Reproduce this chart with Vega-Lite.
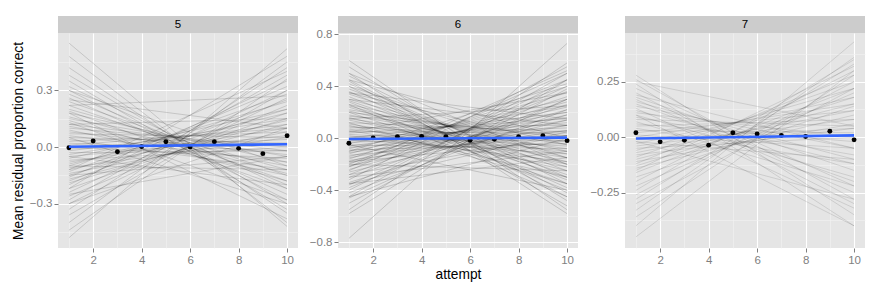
{
  "$schema": "https://vega.github.io/schema/vega-lite/v6.json",
  "padding": {"left": 11, "top": 16, "right": 5, "bottom": 5},
  "background": "white",
  "config": {
    "font": "Liberation Sans",
    "view": {"stroke": null},
    "axis": {
      "domain": false,
      "labelColor": "#7f7f7f",
      "labelFontSize": 11.5,
      "tickColor": "#7f7f7f",
      "tickSize": 4,
      "labelPadding": 2,
      "titleFontSize": 13.75,
      "titleFontWeight": "normal",
      "titleColor": "#000000",
      "gridColor": "#ffffff",
      "gridOpacity": 1
    }
  },
  "datasets": {
    "l5": [
      {"g":1,"x":1,"y":0.55},{"g":1,"x":10,"y":-0.42},{"g":2,"x":1,"y":0.48},{"g":2,"x":10,"y":-0.40},
      {"g":3,"x":1,"y":0.42},{"g":3,"x":10,"y":-0.35},{"g":4,"x":1,"y":0.38},{"g":4,"x":10,"y":-0.30},
      {"g":5,"x":1,"y":0.35},{"g":5,"x":10,"y":-0.33},{"g":6,"x":1,"y":0.32},{"g":6,"x":10,"y":-0.22},
      {"g":7,"x":1,"y":0.30},{"g":7,"x":10,"y":-0.28},{"g":8,"x":1,"y":0.28},{"g":8,"x":10,"y":-0.20},
      {"g":9,"x":1,"y":0.26},{"g":9,"x":10,"y":-0.25},{"g":10,"x":1,"y":0.24},{"g":10,"x":10,"y":-0.15},
      {"g":11,"x":1,"y":0.22},{"g":11,"x":10,"y":-0.18},{"g":12,"x":1,"y":0.20},{"g":12,"x":10,"y":-0.12},
      {"g":13,"x":1,"y":0.19},{"g":13,"x":10,"y":-0.22},{"g":14,"x":1,"y":0.18},{"g":14,"x":10,"y":-0.08},
      {"g":15,"x":1,"y":0.16},{"g":15,"x":10,"y":-0.14},{"g":16,"x":1,"y":0.15},{"g":16,"x":10,"y":-0.05},
      {"g":17,"x":1,"y":0.14},{"g":17,"x":10,"y":-0.18},{"g":18,"x":1,"y":0.12},{"g":18,"x":10,"y":-0.02},
      {"g":19,"x":1,"y":0.11},{"g":19,"x":10,"y":-0.10},{"g":20,"x":1,"y":0.10},{"g":20,"x":10,"y":0.00},
      {"g":21,"x":1,"y":0.09},{"g":21,"x":10,"y":-0.15},{"g":22,"x":1,"y":0.08},{"g":22,"x":10,"y":-0.04},
      {"g":23,"x":1,"y":0.07},{"g":23,"x":10,"y":0.05},{"g":24,"x":1,"y":0.06},{"g":24,"x":10,"y":-0.08},
      {"g":25,"x":1,"y":0.05},{"g":25,"x":10,"y":0.02},{"g":26,"x":1,"y":0.04},{"g":26,"x":10,"y":-0.12},
      {"g":27,"x":1,"y":0.03},{"g":27,"x":10,"y":0.08},{"g":28,"x":1,"y":0.02},{"g":28,"x":10,"y":-0.02},
      {"g":29,"x":1,"y":0.01},{"g":29,"x":10,"y":0.10},{"g":30,"x":1,"y":0.00},{"g":30,"x":10,"y":-0.06},
      {"g":31,"x":1,"y":-0.01},{"g":31,"x":10,"y":0.04},{"g":32,"x":1,"y":-0.02},{"g":32,"x":10,"y":0.12},
      {"g":33,"x":1,"y":-0.03},{"g":33,"x":10,"y":-0.02},{"g":34,"x":1,"y":-0.04},{"g":34,"x":10,"y":0.15},
      {"g":35,"x":1,"y":-0.05},{"g":35,"x":10,"y":0.06},{"g":36,"x":1,"y":-0.06},{"g":36,"x":10,"y":0.20},
      {"g":37,"x":1,"y":-0.07},{"g":37,"x":10,"y":0.00},{"g":38,"x":1,"y":-0.08},{"g":38,"x":10,"y":0.10},
      {"g":39,"x":1,"y":-0.09},{"g":39,"x":10,"y":0.18},{"g":40,"x":1,"y":-0.10},{"g":40,"x":10,"y":0.24},
      {"g":41,"x":1,"y":-0.11},{"g":41,"x":10,"y":0.05},{"g":42,"x":1,"y":-0.12},{"g":42,"x":10,"y":0.14},
      {"g":43,"x":1,"y":-0.13},{"g":43,"x":10,"y":0.28},{"g":44,"x":1,"y":-0.14},{"g":44,"x":10,"y":0.08},
      {"g":45,"x":1,"y":-0.15},{"g":45,"x":10,"y":0.20},{"g":46,"x":1,"y":-0.16},{"g":46,"x":10,"y":0.32},
      {"g":47,"x":1,"y":-0.17},{"g":47,"x":10,"y":0.12},{"g":48,"x":1,"y":-0.18},{"g":48,"x":10,"y":0.25},
      {"g":49,"x":1,"y":-0.19},{"g":49,"x":10,"y":0.15},{"g":50,"x":1,"y":-0.20},{"g":50,"x":10,"y":0.35},
      {"g":51,"x":1,"y":-0.22},{"g":51,"x":10,"y":0.18},{"g":52,"x":1,"y":-0.24},{"g":52,"x":10,"y":0.30},
      {"g":53,"x":1,"y":-0.26},{"g":53,"x":10,"y":0.22},{"g":54,"x":1,"y":-0.28},{"g":54,"x":10,"y":0.38},
      {"g":55,"x":1,"y":-0.30},{"g":55,"x":10,"y":0.26},{"g":56,"x":1,"y":-0.33},{"g":56,"x":10,"y":0.42},
      {"g":57,"x":1,"y":-0.36},{"g":57,"x":10,"y":0.30},{"g":58,"x":1,"y":-0.40},{"g":58,"x":10,"y":0.45},
      {"g":59,"x":1,"y":-0.44},{"g":59,"x":10,"y":0.36},{"g":60,"x":1,"y":-0.48},{"g":60,"x":10,"y":0.52},
      {"g":61,"x":1,"y":0.22},{"g":61,"x":10,"y":0.27},{"g":62,"x":1,"y":0.00},{"g":62,"x":10,"y":0.02},
      {"g":63,"x":1,"y":-0.10},{"g":63,"x":10,"y":-0.12},{"g":64,"x":1,"y":0.12},{"g":64,"x":10,"y":0.15},
      {"g":65,"x":1,"y":-0.05},{"g":65,"x":10,"y":-0.20},{"g":66,"x":1,"y":0.05},{"g":66,"x":10,"y":-0.30},
      {"g":67,"x":1,"y":-0.15},{"g":67,"x":10,"y":-0.05},{"g":68,"x":1,"y":0.25},{"g":68,"x":10,"y":0.10},
      {"g":69,"x":1,"y":-0.25},{"g":69,"x":10,"y":-0.05},{"g":70,"x":1,"y":0.18},{"g":70,"x":10,"y":-0.38},
      {"g":71,"x":1,"y":-0.22},{"g":71,"x":10,"y":0.48},{"g":72,"x":1,"y":0.30},{"g":72,"x":10,"y":-0.10},
      {"g":73,"x":1,"y":-0.30},{"g":73,"x":10,"y":0.10},{"g":74,"x":1,"y":0.13},{"g":74,"x":10,"y":-0.28},
      {"g":75,"x":1,"y":-0.12},{"g":75,"x":10,"y":0.40}
    ],
    "p5": [
      {"x":1,"y":-0.004},{"x":2,"y":0.032},{"x":3,"y":-0.025},{"x":4,"y":0.002},{"x":5,"y":0.028},
      {"x":6,"y":0.0},{"x":7,"y":0.028},{"x":8,"y":-0.007},{"x":9,"y":-0.035},{"x":10,"y":0.06}
    ],
    "l6": [
      {"g":1,"x":1,"y":0.60},{"g":1,"x":10,"y":-0.55},{"g":2,"x":1,"y":0.55},{"g":2,"x":10,"y":-0.48},
      {"g":3,"x":1,"y":0.50},{"g":3,"x":10,"y":-0.58},{"g":4,"x":1,"y":0.48},{"g":4,"x":10,"y":-0.35},
      {"g":5,"x":1,"y":0.45},{"g":5,"x":10,"y":-0.42},{"g":6,"x":1,"y":0.42},{"g":6,"x":10,"y":-0.30},
      {"g":7,"x":1,"y":0.40},{"g":7,"x":10,"y":-0.45},{"g":8,"x":1,"y":0.38},{"g":8,"x":10,"y":-0.25},
      {"g":9,"x":1,"y":0.36},{"g":9,"x":10,"y":-0.38},{"g":10,"x":1,"y":0.34},{"g":10,"x":10,"y":-0.20},
      {"g":11,"x":1,"y":0.32},{"g":11,"x":10,"y":-0.32},{"g":12,"x":1,"y":0.30},{"g":12,"x":10,"y":-0.15},
      {"g":13,"x":1,"y":0.29},{"g":13,"x":10,"y":-0.28},{"g":14,"x":1,"y":0.28},{"g":14,"x":10,"y":-0.40},
      {"g":15,"x":1,"y":0.26},{"g":15,"x":10,"y":-0.10},{"g":16,"x":1,"y":0.25},{"g":16,"x":10,"y":-0.22},
      {"g":17,"x":1,"y":0.24},{"g":17,"x":10,"y":-0.30},{"g":18,"x":1,"y":0.22},{"g":18,"x":10,"y":-0.05},
      {"g":19,"x":1,"y":0.21},{"g":19,"x":10,"y":-0.18},{"g":20,"x":1,"y":0.20},{"g":20,"x":10,"y":-0.35},
      {"g":21,"x":1,"y":0.18},{"g":21,"x":10,"y":-0.12},{"g":22,"x":1,"y":0.17},{"g":22,"x":10,"y":0.02},
      {"g":23,"x":1,"y":0.16},{"g":23,"x":10,"y":-0.25},{"g":24,"x":1,"y":0.15},{"g":24,"x":10,"y":-0.08},
      {"g":25,"x":1,"y":0.14},{"g":25,"x":10,"y":-0.20},{"g":26,"x":1,"y":0.12},{"g":26,"x":10,"y":0.05},
      {"g":27,"x":1,"y":0.11},{"g":27,"x":10,"y":-0.15},{"g":28,"x":1,"y":0.10},{"g":28,"x":10,"y":-0.30},
      {"g":29,"x":1,"y":0.09},{"g":29,"x":10,"y":-0.02},{"g":30,"x":1,"y":0.08},{"g":30,"x":10,"y":0.10},
      {"g":31,"x":1,"y":0.07},{"g":31,"x":10,"y":-0.10},{"g":32,"x":1,"y":0.06},{"g":32,"x":10,"y":-0.22},
      {"g":33,"x":1,"y":0.05},{"g":33,"x":10,"y":0.04},{"g":34,"x":1,"y":0.04},{"g":34,"x":10,"y":0.15},
      {"g":35,"x":1,"y":0.03},{"g":35,"x":10,"y":-0.06},{"g":36,"x":1,"y":0.02},{"g":36,"x":10,"y":-0.18},
      {"g":37,"x":1,"y":0.01},{"g":37,"x":10,"y":0.08},{"g":38,"x":1,"y":0.00},{"g":38,"x":10,"y":-0.02},
      {"g":39,"x":1,"y":0.00},{"g":39,"x":10,"y":0.20},{"g":40,"x":1,"y":-0.01},{"g":40,"x":10,"y":-0.12},
      {"g":41,"x":1,"y":-0.02},{"g":41,"x":10,"y":0.12},{"g":42,"x":1,"y":-0.03},{"g":42,"x":10,"y":0.02},
      {"g":43,"x":1,"y":-0.04},{"g":43,"x":10,"y":0.25},{"g":44,"x":1,"y":-0.05},{"g":44,"x":10,"y":-0.08},
      {"g":45,"x":1,"y":-0.06},{"g":45,"x":10,"y":0.16},{"g":46,"x":1,"y":-0.07},{"g":46,"x":10,"y":0.06},
      {"g":47,"x":1,"y":-0.08},{"g":47,"x":10,"y":0.30},{"g":48,"x":1,"y":-0.09},{"g":48,"x":10,"y":-0.04},
      {"g":49,"x":1,"y":-0.10},{"g":49,"x":10,"y":0.20},{"g":50,"x":1,"y":-0.11},{"g":50,"x":10,"y":0.10},
      {"g":51,"x":1,"y":-0.12},{"g":51,"x":10,"y":0.35},{"g":52,"x":1,"y":-0.13},{"g":52,"x":10,"y":0.02},
      {"g":53,"x":1,"y":-0.14},{"g":53,"x":10,"y":0.24},{"g":54,"x":1,"y":-0.15},{"g":54,"x":10,"y":0.14},
      {"g":55,"x":1,"y":-0.16},{"g":55,"x":10,"y":0.40},{"g":56,"x":1,"y":-0.17},{"g":56,"x":10,"y":0.06},
      {"g":57,"x":1,"y":-0.18},{"g":57,"x":10,"y":0.28},{"g":58,"x":1,"y":-0.19},{"g":58,"x":10,"y":0.18},
      {"g":59,"x":1,"y":-0.20},{"g":59,"x":10,"y":0.45},{"g":60,"x":1,"y":-0.21},{"g":60,"x":10,"y":0.10},
      {"g":61,"x":1,"y":-0.22},{"g":61,"x":10,"y":0.32},{"g":62,"x":1,"y":-0.24},{"g":62,"x":10,"y":0.22},
      {"g":63,"x":1,"y":-0.25},{"g":63,"x":10,"y":0.50},{"g":64,"x":1,"y":-0.26},{"g":64,"x":10,"y":0.14},
      {"g":65,"x":1,"y":-0.28},{"g":65,"x":10,"y":0.36},{"g":66,"x":1,"y":-0.30},{"g":66,"x":10,"y":0.26},
      {"g":67,"x":1,"y":-0.32},{"g":67,"x":10,"y":0.55},{"g":68,"x":1,"y":-0.34},{"g":68,"x":10,"y":0.18},
      {"g":69,"x":1,"y":-0.36},{"g":69,"x":10,"y":0.40},{"g":70,"x":1,"y":-0.38},{"g":70,"x":10,"y":0.30},
      {"g":71,"x":1,"y":-0.40},{"g":71,"x":10,"y":0.45},{"g":72,"x":1,"y":-0.42},{"g":72,"x":10,"y":0.22},
      {"g":73,"x":1,"y":-0.45},{"g":73,"x":10,"y":0.50},{"g":74,"x":1,"y":-0.50},{"g":74,"x":10,"y":0.38},
      {"g":75,"x":1,"y":-0.55},{"g":75,"x":10,"y":0.58},{"g":76,"x":1,"y":-0.58},{"g":76,"x":10,"y":0.45},
      {"g":77,"x":1,"y":-0.77},{"g":77,"x":10,"y":0.73},{"g":78,"x":1,"y":0.40},{"g":78,"x":10,"y":-0.15},
      {"g":79,"x":1,"y":0.50},{"g":79,"x":10,"y":-0.20},{"g":80,"x":1,"y":-0.35},{"g":80,"x":10,"y":0.05},
      {"g":81,"x":1,"y":-0.28},{"g":81,"x":10,"y":0.02},{"g":82,"x":1,"y":0.35},{"g":82,"x":10,"y":-0.05},
      {"g":83,"x":1,"y":0.26},{"g":83,"x":10,"y":-0.45},{"g":84,"x":1,"y":-0.22},{"g":84,"x":10,"y":0.52},
      {"g":85,"x":1,"y":0.12},{"g":85,"x":10,"y":-0.35},{"g":86,"x":1,"y":-0.10},{"g":86,"x":10,"y":0.42},
      {"g":87,"x":1,"y":0.20},{"g":87,"x":10,"y":0.00},{"g":88,"x":1,"y":-0.18},{"g":88,"x":10,"y":-0.02},
      {"g":89,"x":1,"y":0.44},{"g":89,"x":10,"y":-0.52},{"g":90,"x":1,"y":-0.46},{"g":90,"x":10,"y":0.30},
      {"g":91,"x":1,"y":0.30},{"g":91,"x":10,"y":0.10},{"g":92,"x":1,"y":0.15},{"g":92,"x":10,"y":0.25},
      {"g":93,"x":1,"y":-0.30},{"g":93,"x":10,"y":-0.10},{"g":94,"x":1,"y":-0.20},{"g":94,"x":10,"y":-0.25},
      {"g":95,"x":1,"y":0.45},{"g":95,"x":10,"y":0.00},{"g":96,"x":1,"y":-0.45},{"g":96,"x":10,"y":0.00},
      {"g":97,"x":1,"y":0.05},{"g":97,"x":10,"y":0.35},{"g":98,"x":1,"y":-0.05},{"g":98,"x":10,"y":-0.40},
      {"g":99,"x":1,"y":0.35},{"g":99,"x":10,"y":0.15},{"g":100,"x":1,"y":-0.35},{"g":100,"x":10,"y":-0.15}
    ],
    "p6": [
      {"x":1,"y":-0.038},{"x":2,"y":0.003},{"x":3,"y":0.013},{"x":4,"y":0.015},{"x":5,"y":0.013},
      {"x":6,"y":-0.015},{"x":7,"y":-0.008},{"x":8,"y":0.013},{"x":9,"y":0.02},{"x":10,"y":-0.018}
    ],
    "l7": [
      {"g":1,"x":1,"y":0.28},{"g":1,"x":10,"y":-0.35},{"g":2,"x":1,"y":0.26},{"g":2,"x":10,"y":-0.28},
      {"g":3,"x":1,"y":0.24},{"g":3,"x":10,"y":-0.40},{"g":4,"x":1,"y":0.22},{"g":4,"x":10,"y":-0.22},
      {"g":5,"x":1,"y":0.20},{"g":5,"x":10,"y":-0.30},{"g":6,"x":1,"y":0.18},{"g":6,"x":10,"y":-0.15},
      {"g":7,"x":1,"y":0.17},{"g":7,"x":10,"y":-0.25},{"g":8,"x":1,"y":0.16},{"g":8,"x":10,"y":-0.10},
      {"g":9,"x":1,"y":0.15},{"g":9,"x":10,"y":-0.20},{"g":10,"x":1,"y":0.14},{"g":10,"x":10,"y":-0.05},
      {"g":11,"x":1,"y":0.13},{"g":11,"x":10,"y":-0.32},{"g":12,"x":1,"y":0.12},{"g":12,"x":10,"y":-0.12},
      {"g":13,"x":1,"y":0.11},{"g":13,"x":10,"y":0.00},{"g":14,"x":1,"y":0.10},{"g":14,"x":10,"y":-0.18},
      {"g":15,"x":1,"y":0.09},{"g":15,"x":10,"y":-0.08},{"g":16,"x":1,"y":0.08},{"g":16,"x":10,"y":0.05},
      {"g":17,"x":1,"y":0.07},{"g":17,"x":10,"y":-0.22},{"g":18,"x":1,"y":0.06},{"g":18,"x":10,"y":-0.02},
      {"g":19,"x":1,"y":0.05},{"g":19,"x":10,"y":0.08},{"g":20,"x":1,"y":0.04},{"g":20,"x":10,"y":-0.12},
      {"g":21,"x":1,"y":0.03},{"g":21,"x":10,"y":0.02},{"g":22,"x":1,"y":0.02},{"g":22,"x":10,"y":0.12},
      {"g":23,"x":1,"y":0.01},{"g":23,"x":10,"y":-0.05},{"g":24,"x":1,"y":0.00},{"g":24,"x":10,"y":0.15},
      {"g":25,"x":1,"y":-0.01},{"g":25,"x":10,"y":0.04},{"g":26,"x":1,"y":-0.02},{"g":26,"x":10,"y":-0.10},
      {"g":27,"x":1,"y":-0.03},{"g":27,"x":10,"y":0.18},{"g":28,"x":1,"y":-0.04},{"g":28,"x":10,"y":0.08},
      {"g":29,"x":1,"y":-0.05},{"g":29,"x":10,"y":0.00},{"g":30,"x":1,"y":-0.06},{"g":30,"x":10,"y":0.22},
      {"g":31,"x":1,"y":-0.07},{"g":31,"x":10,"y":0.12},{"g":32,"x":1,"y":-0.08},{"g":32,"x":10,"y":0.04},
      {"g":33,"x":1,"y":-0.09},{"g":33,"x":10,"y":0.25},{"g":34,"x":1,"y":-0.10},{"g":34,"x":10,"y":0.15},
      {"g":35,"x":1,"y":-0.11},{"g":35,"x":10,"y":0.06},{"g":36,"x":1,"y":-0.12},{"g":36,"x":10,"y":0.28},
      {"g":37,"x":1,"y":-0.13},{"g":37,"x":10,"y":0.18},{"g":38,"x":1,"y":-0.14},{"g":38,"x":10,"y":0.10},
      {"g":39,"x":1,"y":-0.15},{"g":39,"x":10,"y":0.32},{"g":40,"x":1,"y":-0.16},{"g":40,"x":10,"y":0.22},
      {"g":41,"x":1,"y":-0.18},{"g":41,"x":10,"y":0.14},{"g":42,"x":1,"y":-0.20},{"g":42,"x":10,"y":0.30},
      {"g":43,"x":1,"y":-0.22},{"g":43,"x":10,"y":0.20},{"g":44,"x":1,"y":-0.24},{"g":44,"x":10,"y":0.35},
      {"g":45,"x":1,"y":-0.26},{"g":45,"x":10,"y":0.25},{"g":46,"x":1,"y":-0.28},{"g":46,"x":10,"y":0.33},
      {"g":47,"x":1,"y":-0.30},{"g":47,"x":10,"y":0.22},{"g":48,"x":1,"y":-0.33},{"g":48,"x":10,"y":0.36},
      {"g":49,"x":1,"y":-0.36},{"g":49,"x":10,"y":0.28},{"g":50,"x":1,"y":-0.40},{"g":50,"x":10,"y":0.43},
      {"g":51,"x":1,"y":-0.45},{"g":51,"x":10,"y":0.30},{"g":52,"x":1,"y":0.25},{"g":52,"x":10,"y":0.05},
      {"g":53,"x":1,"y":-0.02},{"g":53,"x":10,"y":-0.28},{"g":54,"x":1,"y":0.10},{"g":54,"x":10,"y":-0.40},
      {"g":55,"x":1,"y":0.19},{"g":55,"x":10,"y":-0.05}
    ],
    "p7": [
      {"x":1,"y":0.020},{"x":2,"y":-0.021},{"x":3,"y":-0.014},{"x":4,"y":-0.036},{"x":5,"y":0.020},
      {"x":6,"y":0.014},{"x":7,"y":0.008},{"x":8,"y":0.003},{"x":9,"y":0.027},{"x":10,"y":-0.012}
    ]
  },
  "hconcat": [
    {
      "spacing": 0,
      "bounds": "flush",
      "vconcat": [
        {
          "width": 240, "height": 17,
          "view": {"fill": "#cccccc", "stroke": null},
          "data": {"values": [{"f": "5"}]},
          "mark": {"type": "text", "fontSize": 11.5, "color": "#000000"},
          "encoding": {"text": {"field": "f"}}
        },
        {
          "width": 240, "height": 215,
          "view": {"fill": "#e5e5e5", "stroke": null},
          "encoding": {
            "x": {"field": "x", "type": "quantitative",
              "scale": {"domain": [0.55, 10.45], "nice": false, "zero": false},
              "axis": {"values": [1,2,3,4,5,6,7,8,9,10], "title": null,
                "labelExpr": "datum.value % 2 == 1 ? '' : datum.label",
                "gridColor": {"condition": {"test": "datum.value % 2 == 1", "value": "#f2f2f2"}, "value": "#ffffff"},
                "gridWidth": {"condition": {"test": "datum.value % 2 == 1", "value": 0.6}, "value": 1.1},
                "tickOpacity": {"condition": {"test": "datum.value % 2 == 1", "value": 0}, "value": 1}}},
            "y": {"field": "y", "type": "quantitative",
              "scale": {"domain": [-0.534, 0.603], "nice": false, "zero": false},
              "axis": {"values": [-0.45,-0.3,-0.15,0,0.15,0.3,0.45], "format": ".1f",
                "title": "Mean residual proportion correct", "titlePadding": 4,
                "labelExpr": "indexof([-0.45,-0.15,0.15,0.45], datum.value) >= 0 ? '' : datum.label",
                "gridColor": {"condition": {"test": "indexof([-0.45,-0.15,0.15,0.45], datum.value) >= 0", "value": "#f2f2f2"}, "value": "#ffffff"},
                "gridWidth": {"condition": {"test": "indexof([-0.45,-0.15,0.15,0.45], datum.value) >= 0", "value": 0.6}, "value": 1.1},
                "tickOpacity": {"condition": {"test": "indexof([-0.45,-0.15,0.15,0.45], datum.value) >= 0", "value": 0}, "value": 1}}}
          },
          "layer": [
            {
              "data": {"name": "l5"},
              "mark": {"type": "line", "color": "#000000", "opacity": 0.18, "strokeWidth": 0.8},
              "encoding": {"detail": {"field": "g", "type": "nominal"}}
            },
            {
              "data": {"name": "p5"},
              "mark": {"type": "circle", "color": "#000000", "opacity": 1, "size": 24}
            },
            {
              "data": {"name": "p5"},
              "transform": [{"regression": "y", "on": "x", "extent": [1, 10]}],
              "mark": {"type": "line", "color": "#3366ff", "strokeWidth": 2.6}
            }
          ]
        }
      ]
    },
    {
      "spacing": 0,
      "bounds": "flush",
      "vconcat": [
        {
          "width": 240, "height": 17,
          "view": {"fill": "#cccccc", "stroke": null},
          "data": {"values": [{"f": "6"}]},
          "mark": {"type": "text", "fontSize": 11.5, "color": "#000000"},
          "encoding": {"text": {"field": "f"}}
        },
        {
          "width": 240, "height": 215,
          "view": {"fill": "#e5e5e5", "stroke": null},
          "encoding": {
            "x": {"field": "x", "type": "quantitative",
              "scale": {"domain": [0.55, 10.45], "nice": false, "zero": false},
              "axis": {"values": [1,2,3,4,5,6,7,8,9,10], "title": "attempt", "titlePadding": 2,
                "labelExpr": "datum.value % 2 == 1 ? '' : datum.label",
                "gridColor": {"condition": {"test": "datum.value % 2 == 1", "value": "#f2f2f2"}, "value": "#ffffff"},
                "gridWidth": {"condition": {"test": "datum.value % 2 == 1", "value": 0.6}, "value": 1.1},
                "tickOpacity": {"condition": {"test": "datum.value % 2 == 1", "value": 0}, "value": 1}}},
            "y": {"field": "y", "type": "quantitative",
              "scale": {"domain": [-0.844, 0.81], "nice": false, "zero": false},
              "axis": {"values": [-0.8,-0.6,-0.4,-0.2,0,0.2,0.4,0.6,0.8], "format": ".1f", "title": null,
                "labelExpr": "indexof([-0.6,-0.2,0.2,0.6], datum.value) >= 0 ? '' : datum.label",
                "gridColor": {"condition": {"test": "indexof([-0.6,-0.2,0.2,0.6], datum.value) >= 0", "value": "#f2f2f2"}, "value": "#ffffff"},
                "gridWidth": {"condition": {"test": "indexof([-0.6,-0.2,0.2,0.6], datum.value) >= 0", "value": 0.6}, "value": 1.1},
                "tickOpacity": {"condition": {"test": "indexof([-0.6,-0.2,0.2,0.6], datum.value) >= 0", "value": 0}, "value": 1}}}
          },
          "layer": [
            {
              "data": {"name": "l6"},
              "mark": {"type": "line", "color": "#000000", "opacity": 0.2, "strokeWidth": 0.8},
              "encoding": {"detail": {"field": "g", "type": "nominal"}}
            },
            {
              "data": {"name": "p6"},
              "mark": {"type": "circle", "color": "#000000", "opacity": 1, "size": 24}
            },
            {
              "data": {"name": "p6"},
              "transform": [{"regression": "y", "on": "x", "extent": [1, 10]}],
              "mark": {"type": "line", "color": "#3366ff", "strokeWidth": 2.6}
            }
          ]
        }
      ]
    },
    {
      "spacing": 0,
      "bounds": "flush",
      "vconcat": [
        {
          "width": 240, "height": 17,
          "view": {"fill": "#cccccc", "stroke": null},
          "data": {"values": [{"f": "7"}]},
          "mark": {"type": "text", "fontSize": 11.5, "color": "#000000"},
          "encoding": {"text": {"field": "f"}}
        },
        {
          "width": 240, "height": 215,
          "view": {"fill": "#e5e5e5", "stroke": null},
          "encoding": {
            "x": {"field": "x", "type": "quantitative",
              "scale": {"domain": [0.55, 10.45], "nice": false, "zero": false},
              "axis": {"values": [1,2,3,4,5,6,7,8,9,10], "title": null,
                "labelExpr": "datum.value % 2 == 1 ? '' : datum.label",
                "gridColor": {"condition": {"test": "datum.value % 2 == 1", "value": "#f2f2f2"}, "value": "#ffffff"},
                "gridWidth": {"condition": {"test": "datum.value % 2 == 1", "value": 0.6}, "value": 1.1},
                "tickOpacity": {"condition": {"test": "datum.value % 2 == 1", "value": 0}, "value": 1}}},
            "y": {"field": "y", "type": "quantitative",
              "scale": {"domain": [-0.50, 0.47], "nice": false, "zero": false},
              "axis": {"values": [-0.375,-0.25,-0.125,0,0.125,0.25,0.375], "format": ".2f", "title": null,
                "labelExpr": "indexof([-0.375,-0.125,0.125,0.375], datum.value) >= 0 ? '' : datum.label",
                "gridColor": {"condition": {"test": "indexof([-0.375,-0.125,0.125,0.375], datum.value) >= 0", "value": "#f2f2f2"}, "value": "#ffffff"},
                "gridWidth": {"condition": {"test": "indexof([-0.375,-0.125,0.125,0.375], datum.value) >= 0", "value": 0.6}, "value": 1.1},
                "tickOpacity": {"condition": {"test": "indexof([-0.375,-0.125,0.125,0.375], datum.value) >= 0", "value": 0}, "value": 1}}}
          },
          "layer": [
            {
              "data": {"name": "l7"},
              "mark": {"type": "line", "color": "#000000", "opacity": 0.14, "strokeWidth": 0.8},
              "encoding": {"detail": {"field": "g", "type": "nominal"}}
            },
            {
              "data": {"name": "p7"},
              "mark": {"type": "circle", "color": "#000000", "opacity": 1, "size": 24}
            },
            {
              "data": {"name": "p7"},
              "transform": [{"regression": "y", "on": "x", "extent": [1, 10]}],
              "mark": {"type": "line", "color": "#3366ff", "strokeWidth": 2.6}
            }
          ]
        }
      ]
    }
  ],
  "spacing": 11
}
